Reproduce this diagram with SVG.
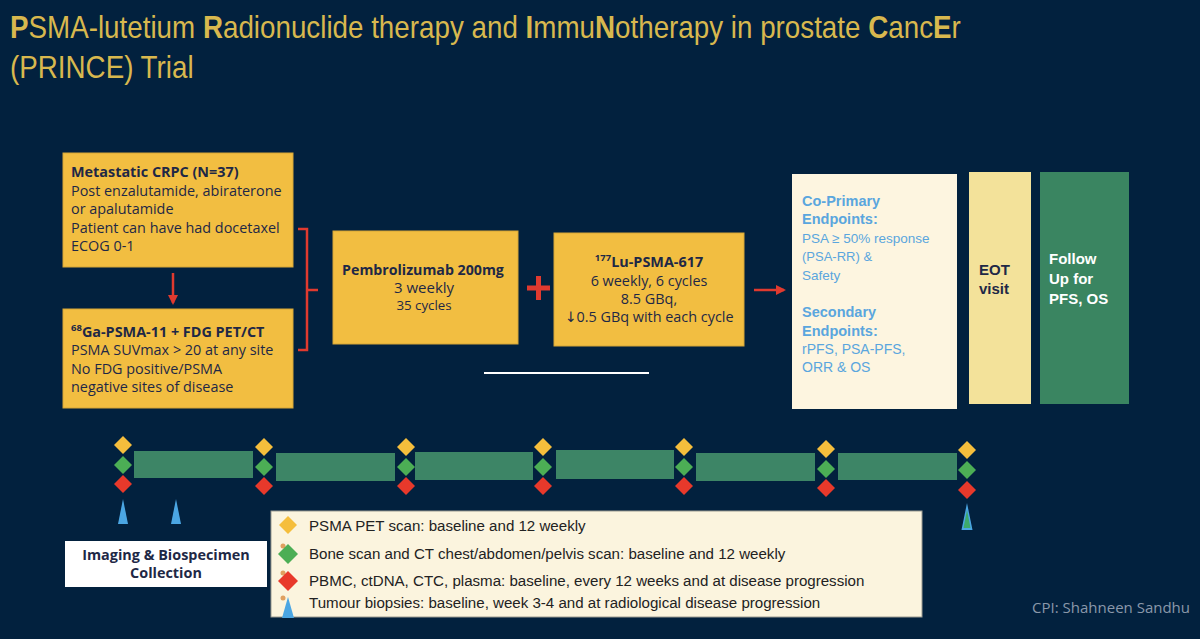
<svg xmlns="http://www.w3.org/2000/svg" width="1200" height="639" viewBox="0 0 1200 639">
<style>
.title{font-family:"Liberation Sans",Arial,sans-serif;font-size:32px;fill:#D8B84E}
.tb{font-weight:bold}
.box{fill:#F2BE41;stroke:#D6A636;stroke-width:1}
.bt{font-family:"Open Sans","DejaVu Sans",sans-serif;font-size:14.4px;fill:#1E2846}
.bb{font-weight:bold}
.ep{font-family:"Liberation Sans",Arial,sans-serif;fill:#5AA6DE}
.lg{font-family:"Liberation Sans",Arial,sans-serif;font-size:15.1px;fill:#222222}
.bar{fill:#3D8566}
.dy{fill:#F5BE3C}
.dg{fill:#4CAE55}
.dr{fill:#E8392B}
.tri{fill:#4BA6E3}
.red{stroke:#E03A2F;fill:none;stroke-width:2.5}
</style>
<defs>
<marker id="ah" viewBox="0 0 10 10" refX="8" refY="5" markerWidth="4" markerHeight="4" orient="auto"><path d="M0,0 L10,5 L0,10 z" fill="#E03A2F"/></marker>
<path id="dia" d="M0,-9 L9,0 L0,9 L-9,0 z"/>
</defs>
<rect width="1200" height="639" fill="#02213E"/>
<g id="title" transform="translate(10,0) scale(0.868,1)">
<text class="title" x="0" y="38"><tspan class="tb">P</tspan>SMA-lutetium <tspan class="tb">R</tspan>adionuclide therapy and <tspan class="tb">I</tspan>mmu<tspan class="tb">N</tspan>otherapy in prostate <tspan class="tb">C</tspan>anc<tspan class="tb">E</tspan>r</text>
<text class="title" x="0" y="78">(PRINCE) Trial</text>
</g>
<g id="n-crpc">
<rect class="box" x="63" y="153" width="230" height="114"/>
<text class="bt" x="71" y="177"><tspan class="bb">Metastatic CRPC (N=37)</tspan><tspan x="71" dy="18.5">Post enzalutamide, abiraterone</tspan><tspan x="71" dy="18.5">or apalutamide</tspan><tspan x="71" dy="18.5">Patient can have had docetaxel</tspan><tspan x="71" dy="18.5">ECOG 0-1</tspan></text>
</g>
<g id="n-pet">
<rect class="box" x="63" y="309" width="230" height="99"/>
<text class="bt bb" x="71" y="337"><tspan font-size="9.5" dy="-6">68</tspan><tspan dy="6">Ga-PSMA-11 + FDG PET/CT</tspan></text>
<text class="bt" x="71" y="355">PSMA SUVmax &gt; 20 at any site<tspan x="71" dy="18.5">No FDG positive/PSMA</tspan><tspan x="71" dy="18.5">negative sites of disease</tspan></text>
</g>
<g id="n-pembro">
<rect class="box" x="333" y="231" width="185" height="113"/>
<text class="bt" x="423" y="275" text-anchor="middle"><tspan class="bb" font-size="14.2">Pembrolizumab 200mg</tspan><tspan x="424" dy="18" font-size="15">3 weekly</tspan><tspan x="424" dy="17" font-size="13.3">35 cycles</tspan></text>
</g>
<g id="n-lu">
<rect class="box" x="554" y="233" width="190" height="113"/>
<text class="bt bb" x="649" y="267" text-anchor="middle" font-size="14.4"><tspan font-size="9.5" dy="-6">177</tspan><tspan dy="6">Lu-PSMA-617</tspan></text>
<text class="bt" x="649" y="286" text-anchor="middle" font-size="15.5">6 weekly, 6 cycles<tspan x="649" dy="18">8.5 GBq,</tspan><tspan x="649" dy="18">↓0.5 GBq with each cycle</tspan></text>
</g>
<g id="n-endpoints">
<rect x="792" y="174" width="165" height="235" fill="#FDF5E0"/>
<text class="ep" x="802" y="206" font-size="14.5" font-weight="bold">Co-Primary<tspan x="802" dy="18">Endpoints:</tspan></text>
<text class="ep" x="802" y="243" font-size="13.5">PSA ≥ 50% response<tspan x="802" dy="18" font-size="13">(PSA-RR) &amp;</tspan><tspan x="802" dy="19">Safety</tspan></text>
<text class="ep" x="802" y="317" font-size="14.5" font-weight="bold">Secondary<tspan x="802" dy="18.5">Endpoints:</tspan></text>
<text class="ep" x="802" y="354" font-size="14">rPFS, PSA-PFS,<tspan x="802" dy="18">ORR &amp; OS</tspan></text>
</g>
<g id="n-eot">
<rect x="969" y="172" width="62" height="232" fill="#F3E29A"/>
<text x="979" y="275" font-family="Liberation Sans,Arial,sans-serif" font-size="15" font-weight="bold" fill="#1E2846">EOT<tspan x="979" dy="19">visit</tspan></text>
</g>
<g id="n-follow">
<rect x="1040" y="172" width="89" height="232" fill="#3A8561"/>
<text x="1049" y="264" font-family="Liberation Sans,Arial,sans-serif" font-size="15" font-weight="bold" fill="#FFFFFF">Follow<tspan x="1049" dy="19.5">Up for</tspan><tspan x="1049" dy="20.5">PFS, OS</tspan></text>
</g>
<g id="connectors">
<line class="red" x1="173" y1="273" x2="173" y2="303" marker-end="url(#ah)"/>
<path class="red" d="M298,229 H307 V350 H298 M307,290 H318"/>
<path d="M527,288 H550 M538.5,276 V300" stroke="#E03A2F" stroke-width="5" fill="none"/>
<line class="red" x1="754" y1="290" x2="784" y2="290" marker-end="url(#ah)"/>
<line x1="484" y1="373" x2="649" y2="373" stroke="#FFFFFF" stroke-width="2"/>
</g>
<g id="timeline">
<rect class="bar" x="134" y="451" width="119" height="27"/>
<rect class="bar" x="276" y="453" width="119" height="28"/>
<rect class="bar" x="415" y="452" width="118" height="28"/>
<rect class="bar" x="556" y="450" width="118" height="29"/>
<rect class="bar" x="696" y="453" width="119" height="28"/>
<rect class="bar" x="838" y="453" width="119" height="27"/>
<g id="m1" transform="translate(123,0)"><use href="#dia" class="dy" y="445"/><use href="#dia" class="dg" y="465"/><use href="#dia" class="dr" y="484"/></g>
<g id="m2" transform="translate(264,0)"><use href="#dia" class="dy" y="447"/><use href="#dia" class="dg" y="467"/><use href="#dia" class="dr" y="486"/></g>
<g id="m3" transform="translate(406,0)"><use href="#dia" class="dy" y="447"/><use href="#dia" class="dg" y="467"/><use href="#dia" class="dr" y="486"/></g>
<g id="m4" transform="translate(543,0)"><use href="#dia" class="dy" y="447"/><use href="#dia" class="dg" y="467"/><use href="#dia" class="dr" y="486"/></g>
<g id="m5" transform="translate(684,0)"><use href="#dia" class="dy" y="447"/><use href="#dia" class="dg" y="467"/><use href="#dia" class="dr" y="486"/></g>
<g id="m6" transform="translate(826,0)"><use href="#dia" class="dy" y="449"/><use href="#dia" class="dg" y="469"/><use href="#dia" class="dr" y="488"/></g>
<g id="m7" transform="translate(967,0)"><use href="#dia" class="dy" y="450"/><use href="#dia" class="dg" y="470"/><use href="#dia" class="dr" y="490"/></g>
<path class="tri" d="M123,499 L128,524 L118,524 z"/>
<path class="tri" d="M176,499 L181,524 L171,524 z"/>
<path class="tri" d="M967,503 L972.5,530 L961.5,530 z"/>
<path d="M967,510 L970.5,528 L963.5,528 z" fill="#3DAA6A"/>
</g>
<g id="n-imaging">
<rect x="65" y="541" width="202" height="46" fill="#FFFFFF"/>
<text class="bt bb" x="166" y="560" text-anchor="middle" font-size="15">Imaging &amp; Biospecimen<tspan x="166" dy="18">Collection</tspan></text>
</g>
<g id="legend">
<rect x="271" y="511" width="651" height="106" fill="#FBF4DE" stroke="#9A9A90" stroke-width="1"/>
<use href="#dia" class="dy" x="288" y="525"/>
<circle cx="283" cy="546" r="2.5" fill="#E0A060"/>
<path class="dg" d="M288,544 L298,554 L288,564 L278,554 z"/>
<circle cx="283" cy="573" r="2.5" fill="#E0A060"/>
<path class="dr" d="M288,571 L298,581 L288,591 L278,581 z"/>
<circle cx="283" cy="598" r="2.5" fill="#E0A060"/>
<path class="tri" d="M288,597 L294,618 L282,618 z"/>
<text class="lg" x="309" y="531">PSMA PET scan: baseline and 12 weekly</text>
<text class="lg" x="309" y="559">Bone scan and CT chest/abdomen/pelvis scan: baseline and 12 weekly</text>
<text class="lg" x="309" y="586">PBMC, ctDNA, CTC, plasma: baseline, every 12 weeks and at disease progression</text>
<text class="lg" x="309" y="608">Tumour biopsies: baseline, week 3-4 and at radiological disease progression</text>
</g>
<text x="1190" y="613" text-anchor="end" font-family="Open Sans,sans-serif" font-size="15" fill="#8A98AA">CPI: Shahneen Sandhu</text>
</svg>
